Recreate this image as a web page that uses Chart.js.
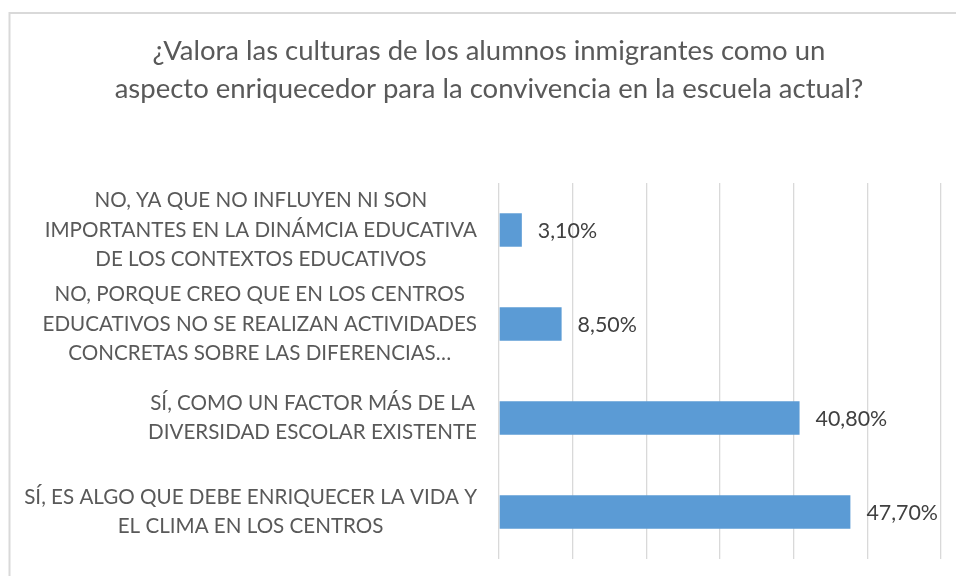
<!DOCTYPE html>
<html>
<head>
<meta charset="utf-8">
<script src="https://cdn.jsdelivr.net/npm/chart.js@4/dist/chart.umd.min.js"></script>
<style>
  html, body { margin: 0; padding: 0; background: #ffffff; overflow: hidden; }
  #wrap { width: 956px; height: 576px; }
</style>
</head>
<body>
<div id="wrap"><canvas id="c" width="956" height="576"></canvas></div>
<script>
const titleLines = [
  "¿Valora las culturas de los alumnos inmigrantes como un",
  "aspecto enriquecedor para la convivencia en la escuela actual?"
];
const categories = [
  ["NO, YA QUE NO INFLUYEN NI SON", "IMPORTANTES EN LA DINÁMCIA EDUCATIVA", "DE LOS CONTEXTOS EDUCATIVOS"],
  ["NO, PORQUE CREO QUE EN LOS CENTROS", "EDUCATIVOS NO SE REALIZAN ACTIVIDADES", "CONCRETAS SOBRE LAS DIFERENCIAS…"],
  ["SÍ, COMO UN FACTOR MÁS DE LA", "DIVERSIDAD ESCOLAR EXISTENTE"],
  ["SÍ, ES ALGO QUE DEBE ENRIQUECER LA VIDA Y", "EL CLIMA EN LOS CENTROS"]
];
const values = [3.1, 8.5, 40.8, 47.7];
const valueLabels = ["3,10%", "8,50%", "40,80%", "47,70%"];
const xTicks = [0, 10, 20, 30, 40, 50, 60];

const FONT = "Lato, 'Open Sans', sans-serif";

const decor = {
  id: 'decor',
  beforeDraw(chart) {
    const ctx = chart.ctx;
    ctx.save();
    ctx.fillStyle = '#ffffff';
    ctx.fillRect(0, 0, chart.width, chart.height);
    ctx.strokeStyle = '#d9d9d9';
    ctx.lineWidth = 2;
    ctx.strokeRect(9.5, 13, 1200, 1000);
    ctx.restore();
  },
  afterDraw(chart) {
    const ctx = chart.ctx;
    ctx.save();
    // title
    ctx.fillStyle = '#595959';
    ctx.font = "27.5px " + FONT;
    ctx.textAlign = 'center';
    ctx.textBaseline = 'alphabetic';
    ctx.fillText(titleLines[0], 489, 60);
    ctx.fillText(titleLines[1], 489, 98);
    // category labels
    const y = chart.scales.y;
    ctx.font = "20.6px " + FONT;
    ctx.textBaseline = 'middle';
    const lh = 29.5;
    categories.forEach((lines, i) => {
      const cy = y.getPixelForTick(i);
      const w = Math.max(...lines.map(l => ctx.measureText(l).width));
      const cx = 477 - w / 2;
      const y0 = cy - (lines.length - 1) * lh / 2;
      lines.forEach((l, k) => ctx.fillText(l, cx, y0 + k * lh));
    });
    // data labels
    const meta = chart.getDatasetMeta(0);
    ctx.fillStyle = '#404040';
    ctx.font = "21.4px " + FONT;
    ctx.textAlign = 'left';
    meta.data.forEach((bar, i) => {
      ctx.fillText(valueLabels[i], bar.x + 16, bar.y + 1);
    });
    ctx.restore();
  }
};

new Chart(document.getElementById('c'), {
  type: 'bar',
  data: {
    labels: categories,
    datasets: [{
      data: values,
      backgroundColor: '#5b9bd5',
      borderWidth: 0,
      categoryPercentage: 0.4,
      barPercentage: 0.89
    }]
  },
  options: {
    indexAxis: 'y',
    responsive: false,
    animation: false,
    devicePixelRatio: 1,
    layout: { padding: { left: 10, right: 15, top: 183, bottom: 17 } },
    plugins: {
      legend: { display: false },
      title: { display: false },
      tooltip: { enabled: false }
    },
    scales: {
      x: {
        min: xTicks[0],
        max: xTicks[xTicks.length - 1],
        afterBuildTicks(scale) { scale.ticks = xTicks.map(v => ({ value: v })); },
        ticks: { display: false },
        grid: { color: '#d9d9d9', lineWidth: 1.3, drawTicks: false },
        border: { display: false },
        afterFit(scale) { scale.height = 0; }
      },
      y: {
        ticks: { display: false },
        grid: { display: false, drawTicks: false },
        border: { display: false },
        afterFit(scale) { scale.width = 489; }
      }
    }
  },
  plugins: [decor]
});
</script>
</body>
</html>
